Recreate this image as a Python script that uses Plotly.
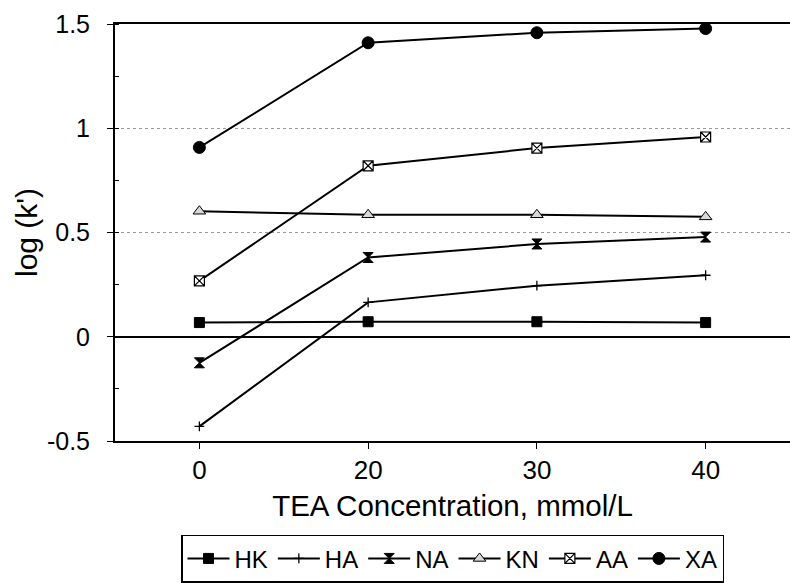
import plotly.graph_objects as go

categories = ["0", "20", "30", "40"]
series_names = ["HK", "HA", "NA", "KN", "AA", "XA"]
HK = [0.068, 0.072, 0.072, 0.068]
HA = [-0.43, 0.165, 0.245, 0.295]
NA = [-0.125, 0.38, 0.445, 0.478]
KN = [0.602, 0.585, 0.585, 0.575]
AA = [0.268, 0.82, 0.905, 0.958]
XA = [0.908, 1.41, 1.458, 1.478]
y_ticks = [-0.5, 0, 0.5, 1, 1.5]
y_ticklabels = ["-0.5", "0", "0.5", "1", "1.5"]

values = [HK, HA, NA, KN, AA, XA]
symbols = ["square", "cross-thin", "hourglass", "triangle-up", "square-x", "circle"]
sizes = [10, 7, 10, 11, 10, 12]
fills = ["black", "black", "black", "#d8d8d8", "white", "black"]
lws = [1, 1.3, 1, 1, 1.2, 1]

fig = go.Figure()
for name, vals, sym, sz, fc, lw in zip(series_names, values, symbols, sizes, fills, lws):
    fig.add_trace(go.Scatter(
        x=categories, y=vals, name=name, mode="lines+markers",
        line=dict(color="black", width=2),
        marker=dict(symbol=sym, size=sz, color=fc,
                    line=dict(color="black", width=lw)),
    ))

font_family = "Liberation Sans, Arial, sans-serif"
fig.update_layout(
    width=790, height=583,
    margin=dict(l=115, r=0, t=24, b=142),
    paper_bgcolor="white", plot_bgcolor="white",
    font=dict(family=font_family, size=25, color="black"),
    showlegend=True,
    legend=dict(
        orientation="h", x=0.5, xanchor="center", y=-0.225, yanchor="top",
        bordercolor="black", borderwidth=1.5, bgcolor="white",
        font=dict(size=24), itemwidth=42, tracegroupgap=0,
    ),
    xaxis=dict(
        type="category", range=[-0.5, 3.5],
        showline=True, linecolor="black", linewidth=2, mirror=True,
        ticks="outside", ticklen=6, tickcolor="black",
        ticklabelstandoff=-1,
        showgrid=False, zeroline=False,
        title=dict(text="TEA Concentration, mmol/L", font=dict(size=29.5), standoff=11),
        tickfont=dict(size=26),
    ),
    yaxis=dict(
        range=[-0.5, 1.5],
        tickvals=y_ticks, ticktext=y_ticklabels,
        showline=True, linecolor="black", linewidth=2,
        ticks="outside", ticklen=6, tickcolor="black",
        ticklabelstandoff=12,
        showgrid=True, gridcolor="#9a9a9a", gridwidth=1, griddash="dot",
        zeroline=True, zerolinecolor="black", zerolinewidth=1.8,
        minor=dict(dtick=0.25, ticks="inside", ticklen=4, tickcolor="black", showgrid=False),
        title=dict(text="log (k')", font=dict(size=30), standoff=0),
        tickfont=dict(size=25),
    ),
)

fig.write_html("out.html", config={"displayModeBar": False},
               post_script="document.body.style.margin='0px';")
